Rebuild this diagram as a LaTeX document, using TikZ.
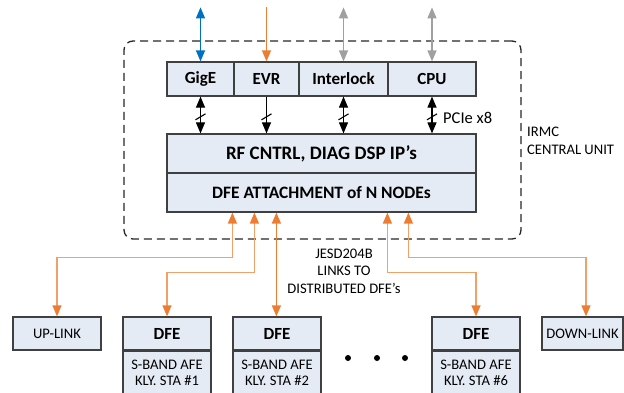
\documentclass[tikz,border=0pt]{standalone}
\usepackage{fontspec}
\setmainfont{Carlito}
\usetikzlibrary{arrows.meta}
\definecolor{boxfill}{HTML}{E5EBF5}
\definecolor{boxline}{HTML}{404040}
\definecolor{jesdhead}{HTML}{ED7D31}
\definecolor{jesdline}{HTML}{F2A06A}
\definecolor{gigeblue}{HTML}{0070C0}
\definecolor{extgray}{HTML}{A0A0A0}
\begin{document}
\begin{tikzpicture}
    [x=1pt, y=-1pt,
    >={Triangle[width=9pt,length=11pt]},
    blk/.style={draw=boxline, fill=boxfill, line width=1.2pt, inner sep=0pt, minimum height=34pt},
    bfont/.style={font=\bfseries\fontsize{17}{20}\selectfont},
    sfont/.style={font=\fontsize{14.6}{17.5}\selectfont},
    afefont/.style={font=\fontsize{14.6}{16}\selectfont},
    unitbox/.style={draw=black!85, dashed, dash pattern=on 8pt off 5pt, line width=1.3pt, rounded corners=9pt},
    bus/.style={draw=black, line width=1.1pt},
    ext/.style={line width=1.3pt},
    jesd/.style={draw=jesdline, line width=1.3pt,
        {Triangle[width=9pt,length=11pt,color=jesdhead]}-{Triangle[width=9pt,length=11pt,color=jesdhead]}}]
    \useasboundingbox (0,0) rectangle (624,393);
    % IRMC central unit
    \node[unitbox, minimum width=397pt, minimum height=198pt] (irmc) at (322.5,140) {};
    \node[sfont, anchor=north west, align=left, inner sep=0pt] (irmclabel) at (527,127) {IRMC\\CENTRAL UNIT};
    \node[blk, bfont, minimum width=67pt] (gige) at (200.5,79) {GigE};
    \node[blk, bfont, minimum width=65pt] (evr) at (266.5,79) {EVR};
    \node[blk, bfont, minimum width=89pt] (ilock) at (343.5,79) {Interlock};
    \node[blk, bfont, minimum width=88pt] (cpu) at (432,79) {CPU};
    \node[blk, minimum width=309pt, minimum height=39pt,
        font=\bfseries\fontsize{19}{22}\selectfont] (rf) at (321.5,153.5) {RF CNTRL, DIAG DSP IP’s};
    \node[blk, minimum width=309pt, minimum height=39pt,
        font=\bfseries\fontsize{17.4}{20}\selectfont] (attach) at (321.5,192.5) {DFE ATTACHMENT of N NODEs};
    % outside links
    \draw[ext, gigeblue, <->] (gige.north) -- ++(0,-54);
    \draw[ext, jesdhead, ->] (evr.north) ++(0,-54) coordinate (evrsrc) -- (evr.north);
    \draw[ext, extgray, <->] (ilock.north) -- ++(0,-54);
    \draw[ext, extgray, <->] (cpu.north) -- ++(0,-54);
    % internal buses
    \foreach \n/\tip in {gige/{<->}, evr/{->}, ilock/{<->}, cpu/{<->}} {
        \draw[bus, \tip] (\n.south) -- coordinate[pos=0.55] (\n bus) (\n.south |- rf.north);
        \draw[bus] ([shift={(-5,3)}]\n bus) -- ([shift={(5,-3)}]\n bus);
    }
    \node[font=\fontsize{16.5}{19}\selectfont, anchor=base west, inner sep=0pt] (pcie) at (443,124) {PCIe x8};
    % distributed nodes
    \node[blk, sfont, minimum width=88pt, minimum height=33pt] (uplink) at (57,333.5) {UP-LINK};
    \node[blk, sfont, minimum width=81pt, minimum height=33pt] (downlink) at (582.5,333.5) {DOWN-LINK};
    \foreach \i/\x in {1/167, 2/277, 6/476} {
        \node[blk, bfont, minimum width=88pt, minimum height=33pt] (dfe\i) at (\x,333.5) {DFE};
        \node[blk, afefont, minimum width=88pt, minimum height=44pt, anchor=north, align=center]
            (afe\i) at (dfe\i.south) {S-BAND AFE\\KLY. STA \#\i};
    }
    \foreach \x in {348,377,405}
        \fill (\x,358) circle (3pt);
    % JESD204B links
    \coordinate (j1) at ([xshift=66pt]attach.south west);
    \coordinate (j2) at ([xshift=88pt]attach.south west);
    \coordinate (j3) at ([xshift=110pt]attach.south west);
    \coordinate (j4) at ([xshift=221pt]attach.south west);
    \coordinate (j5) at ([xshift=242pt]attach.south west);
    \draw[jesd] (j1) -- ++(0,45) -| (uplink.north);
    \draw[jesd] (j2) -- ++(0,60) -| (dfe1.north);
    \draw[jesd, draw=jesdhead] (j3) -- (j3 |- dfe2.north);
    \draw[jesd] (j4) -- ++(0,60) -| (dfe6.north);
    \draw[jesd] (j5) -- ++(0,45) -| ([xshift=3.5pt]downlink.north);
    \node[sfont, align=center] (jesdlabel) at (344,271) {JESD204B\\LINKS TO\\DISTRIBUTED DFE’s};
\end{tikzpicture}
\end{document}
